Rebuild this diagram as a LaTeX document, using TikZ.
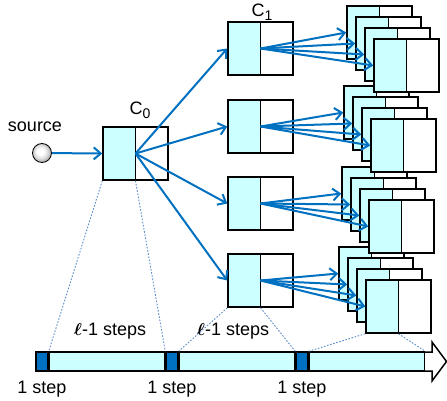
\documentclass[tikz,border=0pt]{standalone}
\usepackage{fontspec}
\setmainfont{Liberation Sans}
\usepackage{tikz}
\usetikzlibrary{arrows.meta,positioning}

\definecolor{cellcyan}{RGB}{204,255,255}
\definecolor{linkblue}{RGB}{0,112,192}
\definecolor{dotblue}{RGB}{91,140,200}
\pgfdeclareradialshading{srcball}{\pgfpoint{-5bp}{5bp}}{color(0bp)=(white); color(9bp)=(white); color(20bp)=(gray!35); color(26bp)=(gray!70); color(50bp)=(gray!70)}

\tikzset{
  cell/.style={draw, line width=1.5pt, fill=white, minimum width=65pt, minimum height=53pt, inner sep=0pt,
    path picture={\fill[cellcyan] (path picture bounding box.south west) rectangle (path picture bounding box.north);
      \draw[line width=1.5pt] (path picture bounding box.south) -- (path picture bounding box.north);}},
  link/.style={draw=linkblue, line width=2pt, -{Straight Barb[length=7pt,width=12pt]}},
  guide/.style={draw=dotblue, line width=0.9pt, dash pattern=on 1.6pt off 1.6pt},
  tick/.style={draw, line width=1.5pt, fill=linkblue, minimum width=12pt, minimum height=19pt, inner sep=0pt},
  span/.style={draw, line width=1.5pt, fill=cellcyan, minimum width=115pt, minimum height=19pt, inner sep=0pt},
  lbl/.style={inner sep=0pt, font=\fontsize{18}{21}\selectfont}
}

\begin{document}
\begin{tikzpicture}[x=1pt,y=-1pt]
  \useasboundingbox (0,0) rectangle (447,401);

  % time line
  \draw[line width=1.5pt, fill=white] (36,352) -- (432,352) -- (432,342) -- (446.5,361.5) -- (432,381) -- (432,371) -- (36,371) -- cycle;
  \node[tick] (t1) at (42,361.5) {};
  \node[span] (p1) [right=0pt of t1] {};
  \node[tick] (t2) [right=0pt of p1] {};
  \node[span] (p2) [right=0pt of t2] {};
  \node[tick] (t3) [right=0pt of p2] {};
  \node[span] (p3) [right=0pt of t3] {};
  \foreach \t in {t1,t2,t3}
    \node[lbl, anchor=north] at ([yshift=-9pt]\t.south) {1 step};
  \node[lbl] at (110,331) {{\boldmath$\ell$}-1 steps};
  \node[lbl] at (233,331) {{\boldmath$\ell$}-1 steps};

  % source and first cell
  \node[circle, draw, line width=0.8pt, minimum size=19pt, inner sep=0pt, shading=srcball] (src) at (42,153) {};
  \node[lbl] (srclbl) at (35,127) {source};
  \node[cell] (c0) at (135.5,153.5) {};
  \node[lbl] at (140,110) {C\raisebox{-4pt}{\fontsize{14}{14}\selectfont 0}};
  \draw[link] (src) -- (c0.west);

  % second level and copies
  \foreach \i/\y/\sx/\sy in {4/280.5/339/247, 3/203.5/342/167, 2/126.5/344/86, 1/48.5/347/6} {
    \node[cell] (c1\i) at (260.5,\y) {};
    \foreach \k in {0,...,3}
      \node[cell] (s\i\k) at ({\sx+9*\k+32.5},{\sy+11*\k+26.5}) {};
    \draw[link] (c0.center) -- (c1\i.west);
    \foreach \k in {0,...,3}
      \draw[link] (c1\i.center) -- (s\i\k.west);
  }
  \node[lbl] at (262,12) {C\raisebox{-4pt}{\fontsize{14}{14}\selectfont 1}};

  % mapping to the time line
  \draw[guide] (c0.south west) -- (p1.north west);
  \draw[guide] (c0.south) -- (p1.north east);
  \draw[guide] (c14.south west) -- (p2.north west);
  \draw[guide] (c14.south) -- (p2.north east);
  \draw[guide] (s43.south west) -- (p3.north west);
  \draw[guide] (s43.south) -- (p3.north east);
\end{tikzpicture}
\end{document}
